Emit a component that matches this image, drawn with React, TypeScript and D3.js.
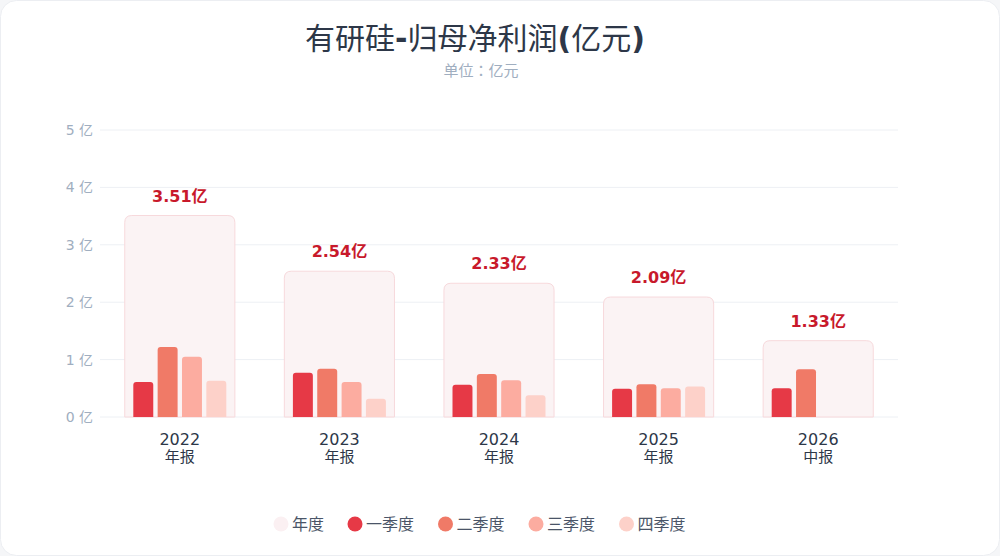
import { useEffect, useRef } from 'react'
import * as d3 from 'd3'

const years = ['2022', '2023', '2024', '2025', '2026']
const periods = ['年报', '年报', '年报', '年报', '中报']
const annual = [3.51, 2.54, 2.33, 2.09, 1.33]
const quarterNames = ['一季度', '二季度', '三季度', '四季度']
const q1 = [0.61, 0.77, 0.56, 0.49, 0.5]
const q2 = [1.22, 0.84, 0.75, 0.57, 0.83]
const q3 = [1.05, 0.61, 0.64, 0.5, null]
const q4 = [0.63, 0.32, 0.38, 0.53, null]
const yTicks = [0, 1, 2, 3, 4, 5]
const title = '有研硅-归母净利润(亿元)'

const W = 1000
const H = 556
const FONT = '"DejaVu Sans", "Noto Sans CJK JP", sans-serif'
const quarterColors = ['#e63946', '#f07a67', '#fcaca0', '#fdd1c9']

function topRounded(x: number, y: number, w: number, h: number, r: number) {
  const rr = Math.min(r, h, w / 2)
  return `M${x},${y + h}V${y + rr}Q${x},${y} ${x + rr},${y}H${x + w - rr}Q${x + w},${y} ${x + w},${y + rr}V${y + h}Z`
}

export default function App() {
  const svgRef = useRef<SVGSVGElement>(null)

  useEffect(() => {
    if (!svgRef.current) return
    const svg = d3.select(svgRef.current)
    svg.selectAll('*').remove()

    const margin = { top: 130, right: 102, bottom: 139, left: 100 }
    const h = H - margin.top - margin.bottom

    svg.append('rect').attr('width', W).attr('height', H).attr('fill', '#f5f6f8')
    svg.append('rect')
      .attr('x', 0.5).attr('y', 0.5).attr('width', W - 1).attr('height', H - 1)
      .attr('rx', 16).attr('fill', '#ffffff').attr('stroke', '#eceef2')

    // Title: latin punctuation bold, CJK regular
    const t = svg.append('text')
      .attr('x', 475).attr('y', 49)
      .attr('text-anchor', 'middle')
      .attr('font-family', FONT).attr('font-size', 30).attr('fill', '#2d3748')
    title.split(/([-()])/).filter(s => s.length).forEach(part => {
      t.append('tspan')
        .attr('font-weight', /^[-()]$/.test(part) ? 700 : 400)
        .text(part)
    })
    svg.append('text')
      .attr('x', 481).attr('y', 76)
      .attr('text-anchor', 'middle')
      .attr('font-family', FONT).attr('font-size', 15).attr('fill', '#a0aec0')
      .text('单位：亿元')

    const x = d3.scaleBand<string>().domain(years).range([margin.left, W - margin.right]).padding(0)
    const y = d3.scaleLinear().domain([0, 5]).range([margin.top + h, margin.top])
    const boxW = x.bandwidth() * 0.69
    const inner = d3.scaleBand<string>().domain(quarterNames).range([-46.5, 46.5]).paddingInner(0.18)

    const g = svg.append('g')

    // Grid lines
    g.selectAll('line.grid')
      .data(yTicks)
      .enter()
      .append('line')
      .attr('x1', margin.left)
      .attr('x2', W - margin.right)
      .attr('y1', d => y(d))
      .attr('y2', d => y(d))
      .attr('stroke', '#edf0f4')
      .attr('stroke-width', 1)

    // Y labels
    g.selectAll('text.ytick')
      .data(yTicks)
      .enter()
      .append('text')
      .attr('x', 93)
      .attr('y', d => y(d) + 5)
      .attr('text-anchor', 'end')
      .attr('font-family', FONT).attr('font-size', 14).attr('fill', '#a0aec0')
      .text(d => `${d} 亿`)

    // Annual boxes
    g.selectAll('path.annual')
      .data(years)
      .enter()
      .append('path')
      .attr('d', (d, i) => {
        const cx = (x(d) as number) + x.bandwidth() / 2
        return topRounded(cx - boxW / 2, y(annual[i]), boxW, y(0) - y(annual[i]), 7)
      })
      .attr('fill', '#fbf3f4')
      .attr('stroke', '#f7d9dc')
      .attr('stroke-width', 1)

    // Quarterly bars
    const series = [q1, q2, q3, q4]
    series.forEach((vals, qi) => {
      g.selectAll(`path.q${qi}`)
        .data(years.map((yr, i) => ({ yr, v: vals[i] })).filter(d => d.v != null))
        .enter()
        .append('path')
        .attr('d', d => {
          const cx = (x(d.yr) as number) + x.bandwidth() / 2
          const bx = cx + (inner(quarterNames[qi]) as number)
          return topRounded(bx, y(d.v as number), inner.bandwidth(), y(0) - y(d.v as number), 3)
        })
        .attr('fill', quarterColors[qi])
    })

    // Annual labels
    g.selectAll('text.val')
      .data(years)
      .enter()
      .append('text')
      .attr('x', d => (x(d) as number) + x.bandwidth() / 2)
      .attr('y', (d, i) => y(annual[i]) - 14)
      .attr('text-anchor', 'middle')
      .attr('font-family', FONT).attr('font-size', 16).attr('font-weight', 700)
      .attr('fill', '#c8192b')
      .text((d, i) => `${annual[i].toFixed(2)}亿`)

    // X labels
    const xl = g.selectAll('g.xl')
      .data(years)
      .enter()
      .append('g')
      .attr('transform', d => `translate(${(x(d) as number) + x.bandwidth() / 2},0)`)
    xl.append('text')
      .attr('y', 445)
      .attr('text-anchor', 'middle')
      .attr('font-family', FONT).attr('font-size', 16).attr('fill', '#2d3748')
      .text(d => d)
    xl.append('text')
      .attr('y', 462)
      .attr('text-anchor', 'middle')
      .attr('font-family', FONT).attr('font-size', 15).attr('fill', '#2d3748')
      .text((d, i) => periods[i])

    // Legend
    const legendItems = [
      { name: '年度', color: '#fbf0f2' },
      ...quarterNames.map((n, i) => ({ name: n, color: quarterColors[i] })),
    ]
    let lx = 281
    legendItems.forEach(item => {
      const lg = svg.append('g').attr('transform', `translate(${lx},524)`)
      lg.append('circle').attr('r', 7.5).attr('fill', item.color)
      lg.append('text')
        .attr('x', 11).attr('y', 6)
        .attr('font-family', FONT).attr('font-size', 16).attr('fill', '#4a5568')
        .text(item.name)
      lx += 11 + item.name.length * 16.5 + 30
    })
  }, [])

  return (
    <div style={{ position: 'fixed', left: 0, top: 0 }}>
      <svg ref={svgRef} width={W} height={H} style={{ display: 'block' }} />
    </div>
  )
}
